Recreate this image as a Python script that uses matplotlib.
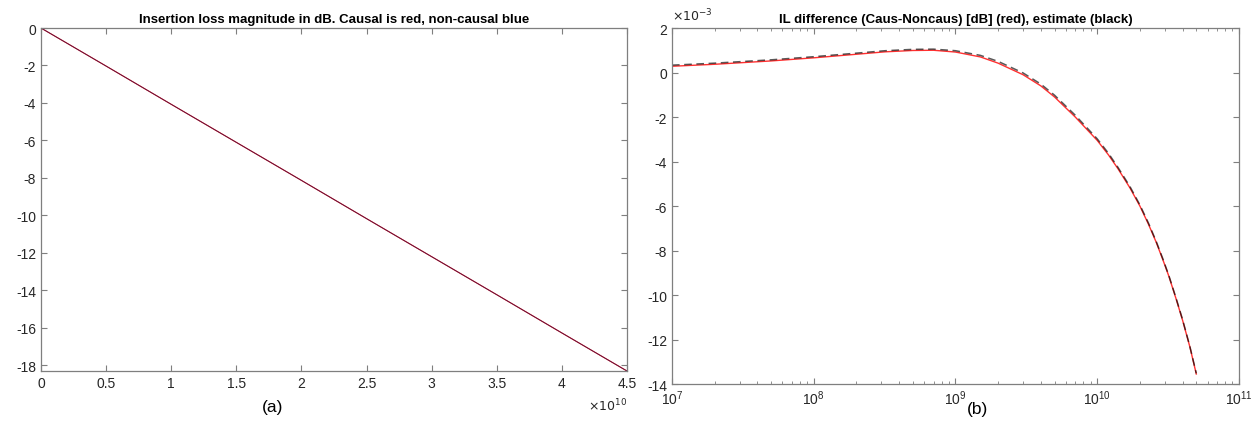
import numpy as np
import matplotlib
matplotlib.use("Agg")
import matplotlib.pyplot as plt
from matplotlib.ticker import FixedLocator, LogLocator, NullFormatter

plt.rcParams["font.family"] = ["Liberation Sans", "DejaVu Sans"]
plt.rcParams["axes.unicode_minus"] = False

# (a) insertion loss, dB, vs frequency (Hz)
freq_a = [0, 0.5e10, 1e10, 1.5e10, 2e10, 2.5e10, 3e10, 3.5e10, 4e10, 4.5e10]
il_causal = [0, -2.03, -4.07, -6.10, -8.13, -10.17, -12.20, -14.23, -16.27, -18.30]
il_noncausal = [0, -2.03, -4.07, -6.10, -8.13, -10.17, -12.20, -14.23, -16.27, -18.30]

# (b) IL difference (x1e-3 dB) vs frequency (Hz), log axis
freq_b = [1e7, 2e7, 5e7, 1e8, 2e8, 3.2e8, 5e8, 7e8, 1e9, 1.5e9, 2e9,
          3e9, 4e9, 5e9, 7e9, 1e10, 1.2e10, 1.4e10, 1.7e10, 2e10, 2.3e10,
          2.6e10, 2.9e10, 3.2e10, 3.6e10, 4e10, 4.5e10, 5e10]
diff_red = [0.28, 0.37, 0.52, 0.66, 0.82, 0.93, 0.99, 1.00, 0.92, 0.70, 0.42,
            -0.10, -0.60, -1.10, -2.00, -3.05, -3.70, -4.32, -5.18, -6.00, -6.82,
            -7.61, -8.40, -9.15, -10.17, -11.13, -12.32, -13.55]
diff_est = [0.33, 0.42, 0.57, 0.71, 0.87, 0.98, 1.04, 1.05, 0.98, 0.77, 0.50,
            -0.02, -0.52, -1.02, -1.92, -2.98, -3.63, -4.26, -5.12, -5.95, -6.77,
            -7.57, -8.36, -9.12, -10.14, -11.10, -12.30, -13.52]

AX_GRAY = "#7f7f7f"
TXT = "#262626"

fig = plt.figure(figsize=(12.6, 4.31), dpi=100)
ax1 = fig.add_axes([0.0325, 0.1369, 0.4651, 0.7958])
ax2 = fig.add_axes([0.5333, 0.1067, 0.4500, 0.8260])

# ---- panel (a)
ax1.plot(freq_a, il_causal, color="red", linewidth=0.8)
ax1.plot(freq_a, il_noncausal, color="#1f1f5a", linewidth=0.6, alpha=0.8)
ax1.set_xlim(0, 4.5e10)
ax1.set_ylim(-18.3, 0)
ax1.xaxis.set_major_locator(FixedLocator(np.arange(0, 4.51e10, 0.5e10)))
ax1.set_xticklabels(["0", "0.5", "1", "1.5", "2", "2.5", "3", "3.5", "4", "4.5"])
ax1.yaxis.set_major_locator(FixedLocator(np.arange(-18, 0.1, 2)))
ax1.set_title("Insertion loss magnitude in dB. Causal is red, non-causal blue",
              fontsize=9.5, fontweight="bold", color="black", pad=4)
ax1.text(1.0, -0.075, r"$\times10^{10}$", transform=ax1.transAxes,
         ha="right", va="top", fontsize=9, color=TXT)

# ---- panel (b)
ax2.plot(freq_b, diff_red, color="#ff3030", linewidth=1.0)
ax2.plot(freq_b, diff_est, color="black", linewidth=1.1, linestyle=(0, (5, 3)),
         alpha=0.65)
ax2.set_xscale("log")
ax2.set_xlim(1e7, 1e11)
ax2.set_ylim(-14, 2)
ax2.xaxis.set_major_locator(LogLocator(base=10, numticks=10))
ax2.xaxis.set_minor_locator(LogLocator(base=10, subs=np.arange(2, 10), numticks=20))
ax2.xaxis.set_minor_formatter(NullFormatter())
ax2.yaxis.set_major_locator(FixedLocator(np.arange(-14, 2.1, 2)))
ax2.set_title("IL difference (Caus-Noncaus) [dB] (red), estimate (black)",
              fontsize=9.5, fontweight="bold", color="black", pad=4)
ax2.text(0.0, 1.012, r"$\times10^{-3}$", transform=ax2.transAxes,
         ha="left", va="bottom", fontsize=9, color=TXT)

for ax in (ax1, ax2):
    for s in ax.spines.values():
        s.set_color(AX_GRAY)
        s.set_linewidth(0.9)
    ax.tick_params(which="both", direction="in", top=True, right=True,
                   color=AX_GRAY, labelcolor=TXT, labelsize=10)
    ax.tick_params(which="major", length=4.5)
    ax.tick_params(which="minor", length=2.5)

fig.text(273 / 1260, 1 - 408 / 431, "(a)", ha="center", va="center",
         fontsize=12.5, color="black")
fig.text(978 / 1260, 1 - 410 / 431, "(b)", ha="center", va="center",
         fontsize=12.5, color="black")

fig.savefig("out.png", dpi=100)
